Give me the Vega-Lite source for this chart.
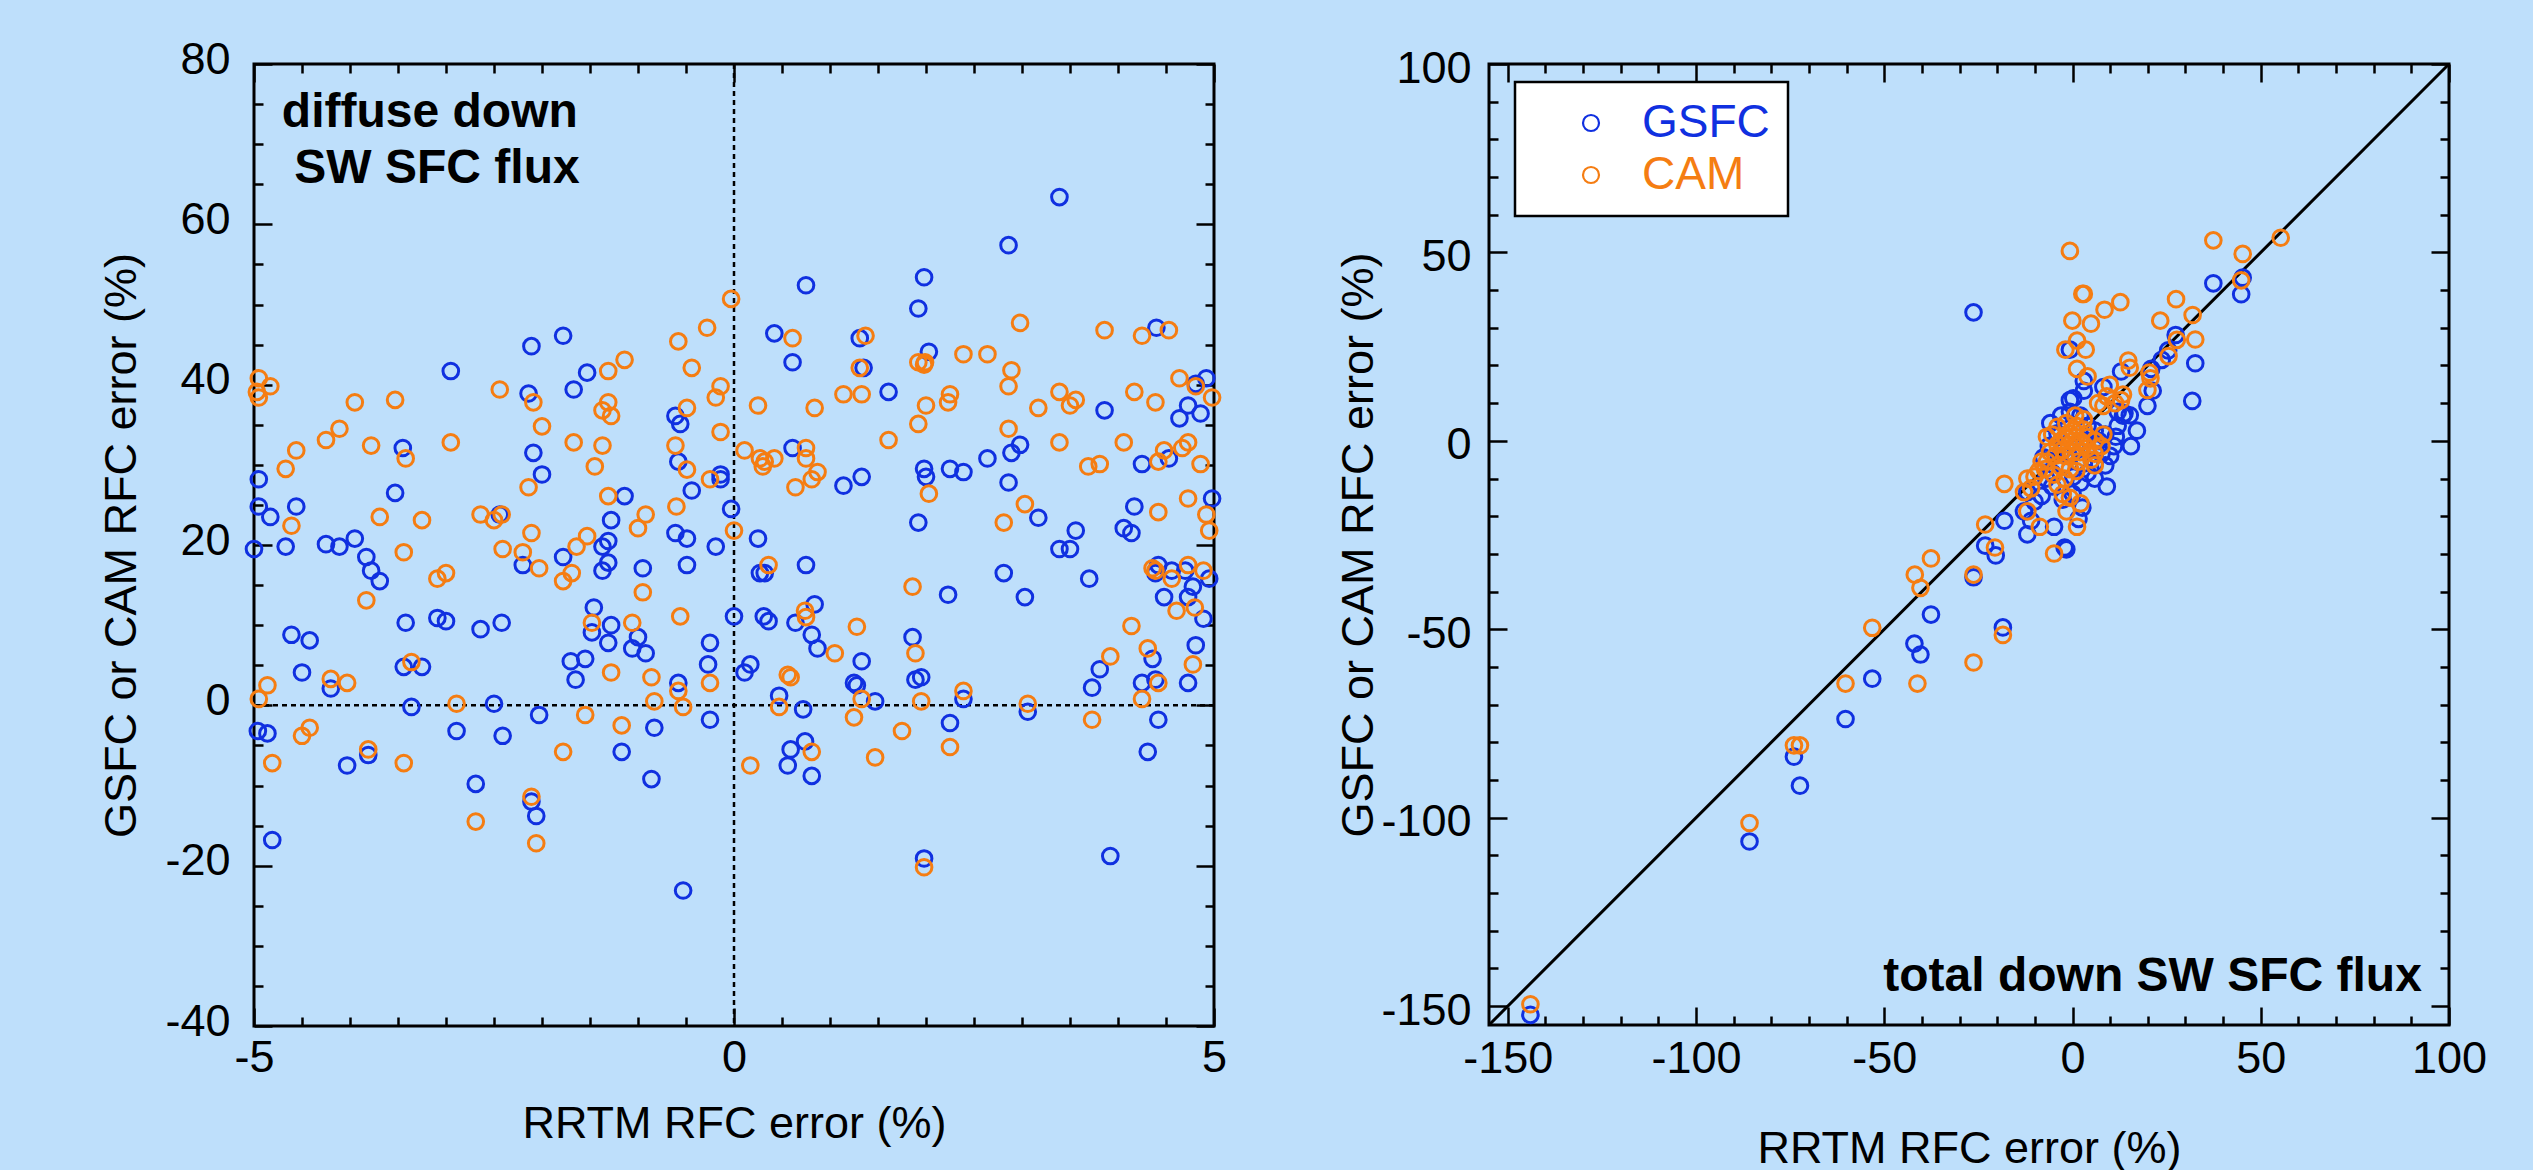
{
"$schema": "https://vega.github.io/schema/vega-lite/v6.json",
"background": "#BEDFFB",
"padding": {"left": 98, "top": 35, "right": 48, "bottom": 0},
"autosize": {"type": "pad"},
"config": {
  "view": {"stroke": "black", "strokeWidth": 3},
  "axis": {"labelFont": "Liberation Sans", "labelFontSize": 45, "labelColor": "black", "titleFont": "Liberation Sans", "titleFontSize": 45, "titleFontWeight": "normal", "titleColor": "black", "tickColor": "black", "tickWidth": 2.5, "grid": false, "domain": false, "labelFlush": false, "labelOverlap": false, "labelBound": false, "labelExpr": "'' + datum.value"},
  "legend": {"strokeWidth": 2.5},
  "text": {"font": "Liberation Sans"}
},
"spacing": 275,
"bounds": "flush",
"resolve": {"scale": {"color": "independent"}},
"datasets": {
"left": [
{"x":0.75,"y":52.4,"m":"GSFC"},{"x":0.42,"y":46.4,"m":"GSFC"},{"x":0.61,"y":42.8,"m":"GSFC"},{"x":-1.53,"y":41.5,"m":"GSFC"},{"x":-1.67,"y":39.4,"m":"GSFC"},{"x":-1.78,"y":46.1,"m":"GSFC"},{"x":-2.11,"y":44.8,"m":"GSFC"},{"x":-2.95,"y":41.7,"m":"GSFC"},{"x":-2.14,"y":38.9,"m":"GSFC"},{"x":-0.61,"y":36.1,"m":"GSFC"},{"x":-0.56,"y":35.1,"m":"GSFC"},{"x":-3.45,"y":32.1,"m":"GSFC"},{"x":-2.09,"y":31.5,"m":"GSFC"},{"x":-2.0,"y":28.8,"m":"GSFC"},{"x":-0.58,"y":30.4,"m":"GSFC"},{"x":-0.44,"y":26.8,"m":"GSFC"},{"x":-0.14,"y":28.8,"m":"GSFC"},{"x":-0.14,"y":28.2,"m":"GSFC"},{"x":-1.14,"y":26.1,"m":"GSFC"},{"x":-4.95,"y":28.2,"m":"GSFC"},{"x":-4.95,"y":24.8,"m":"GSFC"},{"x":-4.83,"y":23.5,"m":"GSFC"},{"x":-4.56,"y":24.8,"m":"GSFC"},{"x":-3.53,"y":26.5,"m":"GSFC"},{"x":-2.44,"y":23.8,"m":"GSFC"},{"x":-1.28,"y":23.1,"m":"GSFC"},{"x":-0.03,"y":24.5,"m":"GSFC"},{"x":-0.61,"y":21.5,"m":"GSFC"},{"x":-0.49,"y":20.8,"m":"GSFC"},{"x":-0.19,"y":19.8,"m":"GSFC"},{"x":-1.37,"y":19.8,"m":"GSFC"},{"x":-1.31,"y":20.5,"m":"GSFC"},{"x":-2.2,"y":17.5,"m":"GSFC"},{"x":-1.78,"y":18.5,"m":"GSFC"},{"x":-1.31,"y":17.8,"m":"GSFC"},{"x":-1.37,"y":16.8,"m":"GSFC"},{"x":-0.95,"y":17.1,"m":"GSFC"},{"x":-0.49,"y":17.5,"m":"GSFC"},{"x":-1.46,"y":12.2,"m":"GSFC"},{"x":-1.28,"y":10.0,"m":"GSFC"},{"x":0.0,"y":11.1,"m":"GSFC"},{"x":-5.0,"y":19.5,"m":"GSFC"},{"x":-4.67,"y":19.8,"m":"GSFC"},{"x":-4.25,"y":20.1,"m":"GSFC"},{"x":-4.11,"y":19.8,"m":"GSFC"},{"x":-3.95,"y":20.8,"m":"GSFC"},{"x":-3.83,"y":18.5,"m":"GSFC"},{"x":-3.78,"y":16.8,"m":"GSFC"},{"x":-3.69,"y":15.5,"m":"GSFC"},{"x":-3.42,"y":10.3,"m":"GSFC"},{"x":-3.09,"y":10.9,"m":"GSFC"},{"x":-3.0,"y":10.5,"m":"GSFC"},{"x":-2.64,"y":9.5,"m":"GSFC"},{"x":-2.42,"y":10.3,"m":"GSFC"},{"x":0.61,"y":32.1,"m":"GSFC"},{"x":0.25,"y":20.8,"m":"GSFC"},{"x":0.27,"y":16.5,"m":"GSFC"},{"x":0.32,"y":16.5,"m":"GSFC"},{"x":0.75,"y":17.5,"m":"GSFC"},{"x":0.84,"y":12.6,"m":"GSFC"},{"x":0.31,"y":11.1,"m":"GSFC"},{"x":0.36,"y":10.5,"m":"GSFC"},{"x":0.64,"y":10.3,"m":"GSFC"},
{"x":3.39,"y":63.4,"m":"GSFC"},{"x":2.86,"y":57.4,"m":"GSFC"},{"x":1.98,"y":53.4,"m":"GSFC"},{"x":1.92,"y":49.5,"m":"GSFC"},{"x":4.4,"y":47.1,"m":"GSFC"},{"x":1.31,"y":45.8,"m":"GSFC"},{"x":1.35,"y":42.1,"m":"GSFC"},{"x":1.61,"y":39.1,"m":"GSFC"},{"x":2.03,"y":44.1,"m":"GSFC"},{"x":3.86,"y":36.8,"m":"GSFC"},{"x":4.81,"y":40.1,"m":"GSFC"},{"x":4.92,"y":40.8,"m":"GSFC"},{"x":4.73,"y":37.4,"m":"GSFC"},{"x":4.64,"y":35.8,"m":"GSFC"},{"x":4.86,"y":36.4,"m":"GSFC"},{"x":2.98,"y":32.5,"m":"GSFC"},{"x":2.89,"y":31.5,"m":"GSFC"},{"x":2.64,"y":30.8,"m":"GSFC"},{"x":4.25,"y":30.1,"m":"GSFC"},{"x":4.53,"y":30.8,"m":"GSFC"},{"x":1.98,"y":29.5,"m":"GSFC"},{"x":2.0,"y":28.5,"m":"GSFC"},{"x":2.25,"y":29.5,"m":"GSFC"},{"x":2.39,"y":29.1,"m":"GSFC"},{"x":1.33,"y":28.5,"m":"GSFC"},{"x":1.14,"y":27.4,"m":"GSFC"},{"x":2.86,"y":27.8,"m":"GSFC"},{"x":3.17,"y":23.4,"m":"GSFC"},{"x":1.92,"y":22.8,"m":"GSFC"},{"x":4.17,"y":24.8,"m":"GSFC"},{"x":4.98,"y":25.8,"m":"GSFC"},{"x":3.56,"y":21.8,"m":"GSFC"},{"x":4.06,"y":22.1,"m":"GSFC"},{"x":4.14,"y":21.5,"m":"GSFC"},{"x":3.39,"y":19.5,"m":"GSFC"},{"x":3.5,"y":19.5,"m":"GSFC"},{"x":3.7,"y":15.8,"m":"GSFC"},{"x":2.81,"y":16.5,"m":"GSFC"},{"x":2.23,"y":13.8,"m":"GSFC"},{"x":3.03,"y":13.5,"m":"GSFC"},{"x":4.42,"y":17.5,"m":"GSFC"},{"x":4.39,"y":16.5,"m":"GSFC"},{"x":4.56,"y":16.8,"m":"GSFC"},{"x":4.7,"y":16.8,"m":"GSFC"},{"x":4.95,"y":15.8,"m":"GSFC"},{"x":4.78,"y":14.8,"m":"GSFC"},{"x":4.48,"y":13.5,"m":"GSFC"},{"x":4.73,"y":13.5,"m":"GSFC"},{"x":4.89,"y":10.8,"m":"GSFC"},
{"x":-4.61,"y":8.8,"m":"GSFC"},{"x":-4.42,"y":8.1,"m":"GSFC"},{"x":-4.5,"y":4.1,"m":"GSFC"},{"x":-4.2,"y":2.1,"m":"GSFC"},{"x":-3.44,"y":4.8,"m":"GSFC"},{"x":-3.25,"y":4.8,"m":"GSFC"},{"x":-3.36,"y":-0.2,"m":"GSFC"},{"x":-2.5,"y":0.2,"m":"GSFC"},{"x":-2.03,"y":-1.2,"m":"GSFC"},{"x":-4.96,"y":-3.2,"m":"GSFC"},{"x":-4.86,"y":-3.5,"m":"GSFC"},{"x":-3.81,"y":-6.2,"m":"GSFC"},{"x":-4.03,"y":-7.5,"m":"GSFC"},{"x":-2.89,"y":-3.2,"m":"GSFC"},{"x":-2.41,"y":-3.8,"m":"GSFC"},{"x":-2.69,"y":-9.8,"m":"GSFC"},{"x":-2.11,"y":-12.0,"m":"GSFC"},{"x":-2.06,"y":-13.8,"m":"GSFC"},{"x":-4.81,"y":-16.8,"m":"GSFC"},{"x":-0.53,"y":-23.1,"m":"GSFC"},{"x":-1.48,"y":9.1,"m":"GSFC"},{"x":-1.31,"y":7.8,"m":"GSFC"},{"x":-1.0,"y":8.5,"m":"GSFC"},{"x":-1.06,"y":7.1,"m":"GSFC"},{"x":-0.92,"y":6.5,"m":"GSFC"},{"x":-1.7,"y":5.5,"m":"GSFC"},{"x":-1.55,"y":5.8,"m":"GSFC"},{"x":-1.65,"y":3.2,"m":"GSFC"},{"x":-0.58,"y":2.8,"m":"GSFC"},{"x":-0.27,"y":5.1,"m":"GSFC"},{"x":-0.25,"y":7.8,"m":"GSFC"},{"x":-0.83,"y":-2.8,"m":"GSFC"},{"x":-1.17,"y":-5.8,"m":"GSFC"},{"x":-0.86,"y":-9.2,"m":"GSFC"},{"x":-0.25,"y":-1.8,"m":"GSFC"},{"x":0.11,"y":4.1,"m":"GSFC"},{"x":0.17,"y":5.1,"m":"GSFC"},{"x":0.47,"y":1.2,"m":"GSFC"},{"x":0.72,"y":-0.5,"m":"GSFC"},{"x":0.74,"y":-4.5,"m":"GSFC"},{"x":0.59,"y":-5.5,"m":"GSFC"},{"x":0.56,"y":-7.5,"m":"GSFC"},{"x":0.81,"y":-8.8,"m":"GSFC"},{"x":0.81,"y":8.8,"m":"GSFC"},{"x":0.87,"y":7.1,"m":"GSFC"},
{"x":1.33,"y":5.5,"m":"GSFC"},{"x":1.25,"y":2.8,"m":"GSFC"},{"x":1.28,"y":2.5,"m":"GSFC"},{"x":1.47,"y":0.5,"m":"GSFC"},{"x":1.86,"y":8.5,"m":"GSFC"},{"x":1.89,"y":3.2,"m":"GSFC"},{"x":1.95,"y":3.5,"m":"GSFC"},{"x":2.25,"y":-2.2,"m":"GSFC"},{"x":2.39,"y":0.8,"m":"GSFC"},{"x":1.98,"y":-19.1,"m":"GSFC"},{"x":3.06,"y":-0.8,"m":"GSFC"},{"x":3.73,"y":2.2,"m":"GSFC"},{"x":3.81,"y":4.5,"m":"GSFC"},{"x":3.92,"y":-18.8,"m":"GSFC"},{"x":4.36,"y":5.8,"m":"GSFC"},{"x":4.25,"y":2.8,"m":"GSFC"},{"x":4.39,"y":3.2,"m":"GSFC"},{"x":4.42,"y":-1.8,"m":"GSFC"},{"x":4.31,"y":-5.8,"m":"GSFC"},{"x":4.73,"y":2.8,"m":"GSFC"},{"x":4.81,"y":7.5,"m":"GSFC"},
{"x":-0.03,"y":50.7,"m":"CAM"},{"x":0.61,"y":45.8,"m":"CAM"},{"x":-0.28,"y":47.1,"m":"CAM"},{"x":-0.58,"y":45.4,"m":"CAM"},{"x":-0.44,"y":42.1,"m":"CAM"},{"x":-1.14,"y":43.1,"m":"CAM"},{"x":-1.31,"y":41.7,"m":"CAM"},{"x":-2.44,"y":39.4,"m":"CAM"},{"x":-2.09,"y":37.8,"m":"CAM"},{"x":-3.95,"y":37.8,"m":"CAM"},{"x":-3.53,"y":38.1,"m":"CAM"},{"x":-4.95,"y":40.8,"m":"CAM"},{"x":-4.83,"y":39.8,"m":"CAM"},{"x":-4.97,"y":39.1,"m":"CAM"},{"x":-4.95,"y":38.4,"m":"CAM"},{"x":-1.31,"y":37.8,"m":"CAM"},{"x":-1.37,"y":36.8,"m":"CAM"},{"x":-1.28,"y":36.1,"m":"CAM"},{"x":-0.49,"y":37.1,"m":"CAM"},{"x":-0.19,"y":38.4,"m":"CAM"},{"x":-0.14,"y":39.8,"m":"CAM"},{"x":-0.14,"y":34.1,"m":"CAM"},{"x":-2.0,"y":34.8,"m":"CAM"},{"x":-4.11,"y":34.5,"m":"CAM"},{"x":-4.25,"y":33.1,"m":"CAM"},{"x":-4.56,"y":31.8,"m":"CAM"},{"x":-4.67,"y":29.5,"m":"CAM"},{"x":-3.78,"y":32.4,"m":"CAM"},{"x":-3.42,"y":30.8,"m":"CAM"},{"x":-2.95,"y":32.8,"m":"CAM"},{"x":-2.14,"y":27.2,"m":"CAM"},{"x":-1.67,"y":32.8,"m":"CAM"},{"x":-1.37,"y":32.4,"m":"CAM"},{"x":-1.45,"y":29.8,"m":"CAM"},{"x":-0.61,"y":32.4,"m":"CAM"},{"x":-0.49,"y":29.4,"m":"CAM"},{"x":-0.25,"y":28.2,"m":"CAM"},{"x":-1.31,"y":26.1,"m":"CAM"},{"x":-4.61,"y":22.4,"m":"CAM"},{"x":-3.69,"y":23.5,"m":"CAM"},{"x":-3.25,"y":23.1,"m":"CAM"},{"x":-2.64,"y":23.8,"m":"CAM"},{"x":-2.5,"y":23.1,"m":"CAM"},{"x":-2.42,"y":23.8,"m":"CAM"},{"x":-0.92,"y":23.8,"m":"CAM"},{"x":-1.0,"y":22.1,"m":"CAM"},{"x":-0.6,"y":24.8,"m":"CAM"},{"x":0.0,"y":21.8,"m":"CAM"},{"x":-1.53,"y":21.1,"m":"CAM"},{"x":-1.64,"y":19.8,"m":"CAM"},{"x":-2.11,"y":21.5,"m":"CAM"},{"x":-2.41,"y":19.5,"m":"CAM"},{"x":-2.2,"y":19.1,"m":"CAM"},{"x":-2.03,"y":17.1,"m":"CAM"},{"x":-1.78,"y":15.5,"m":"CAM"},{"x":-1.69,"y":16.5,"m":"CAM"},{"x":-0.95,"y":14.1,"m":"CAM"},{"x":-0.56,"y":11.1,"m":"CAM"},{"x":-1.48,"y":10.3,"m":"CAM"},{"x":-1.06,"y":10.3,"m":"CAM"},{"x":-3.44,"y":19.1,"m":"CAM"},{"x":-3.83,"y":13.1,"m":"CAM"},{"x":-3.09,"y":15.8,"m":"CAM"},{"x":-3.0,"y":16.5,"m":"CAM"},{"x":0.25,"y":37.4,"m":"CAM"},{"x":0.84,"y":37.1,"m":"CAM"},{"x":0.11,"y":31.8,"m":"CAM"},{"x":0.27,"y":30.8,"m":"CAM"},{"x":0.32,"y":30.4,"m":"CAM"},{"x":0.3,"y":29.8,"m":"CAM"},{"x":0.42,"y":30.8,"m":"CAM"},{"x":0.75,"y":32.1,"m":"CAM"},{"x":0.75,"y":30.8,"m":"CAM"},{"x":0.87,"y":29.1,"m":"CAM"},{"x":0.81,"y":28.2,"m":"CAM"},{"x":0.64,"y":27.2,"m":"CAM"},{"x":0.36,"y":17.5,"m":"CAM"},{"x":0.74,"y":11.8,"m":"CAM"},{"x":0.75,"y":11.0,"m":"CAM"},
{"x":2.98,"y":47.7,"m":"CAM"},{"x":3.86,"y":46.8,"m":"CAM"},{"x":4.25,"y":46.1,"m":"CAM"},{"x":4.53,"y":46.8,"m":"CAM"},{"x":1.37,"y":46.1,"m":"CAM"},{"x":1.31,"y":42.1,"m":"CAM"},{"x":1.14,"y":38.8,"m":"CAM"},{"x":1.33,"y":38.8,"m":"CAM"},{"x":1.92,"y":42.8,"m":"CAM"},{"x":1.98,"y":42.5,"m":"CAM"},{"x":1.99,"y":42.8,"m":"CAM"},{"x":2.39,"y":43.8,"m":"CAM"},{"x":2.64,"y":43.8,"m":"CAM"},{"x":2.89,"y":41.8,"m":"CAM"},{"x":2.86,"y":39.8,"m":"CAM"},{"x":2.25,"y":38.8,"m":"CAM"},{"x":2.23,"y":37.8,"m":"CAM"},{"x":2.0,"y":37.4,"m":"CAM"},{"x":1.92,"y":35.1,"m":"CAM"},{"x":3.17,"y":37.1,"m":"CAM"},{"x":3.39,"y":39.1,"m":"CAM"},{"x":3.56,"y":38.1,"m":"CAM"},{"x":3.5,"y":37.4,"m":"CAM"},{"x":4.17,"y":39.1,"m":"CAM"},{"x":4.39,"y":37.8,"m":"CAM"},{"x":4.64,"y":40.8,"m":"CAM"},{"x":4.81,"y":39.8,"m":"CAM"},{"x":4.98,"y":38.4,"m":"CAM"},{"x":1.61,"y":33.1,"m":"CAM"},{"x":2.86,"y":34.5,"m":"CAM"},{"x":3.39,"y":32.8,"m":"CAM"},{"x":4.06,"y":32.8,"m":"CAM"},{"x":4.42,"y":30.4,"m":"CAM"},{"x":4.48,"y":31.8,"m":"CAM"},{"x":4.67,"y":32.1,"m":"CAM"},{"x":4.73,"y":32.8,"m":"CAM"},{"x":4.86,"y":30.1,"m":"CAM"},{"x":3.69,"y":29.8,"m":"CAM"},{"x":3.81,"y":30.1,"m":"CAM"},{"x":2.03,"y":26.4,"m":"CAM"},{"x":3.03,"y":25.1,"m":"CAM"},{"x":2.81,"y":22.8,"m":"CAM"},{"x":4.42,"y":24.1,"m":"CAM"},{"x":4.73,"y":25.8,"m":"CAM"},{"x":4.92,"y":23.8,"m":"CAM"},{"x":4.95,"y":21.8,"m":"CAM"},{"x":1.86,"y":14.8,"m":"CAM"},{"x":4.36,"y":17.1,"m":"CAM"},{"x":4.39,"y":16.8,"m":"CAM"},{"x":4.73,"y":17.5,"m":"CAM"},{"x":4.89,"y":16.8,"m":"CAM"},{"x":4.56,"y":15.8,"m":"CAM"},{"x":4.61,"y":11.8,"m":"CAM"},{"x":4.8,"y":12.2,"m":"CAM"},{"x":4.14,"y":9.9,"m":"CAM"},{"x":1.28,"y":9.8,"m":"CAM"},
{"x":-4.86,"y":2.5,"m":"CAM"},{"x":-4.95,"y":0.8,"m":"CAM"},{"x":-4.2,"y":3.3,"m":"CAM"},{"x":-4.03,"y":2.8,"m":"CAM"},{"x":-3.36,"y":5.4,"m":"CAM"},{"x":-2.89,"y":0.2,"m":"CAM"},{"x":-4.5,"y":-3.8,"m":"CAM"},{"x":-4.42,"y":-2.8,"m":"CAM"},{"x":-4.81,"y":-7.2,"m":"CAM"},{"x":-3.81,"y":-5.5,"m":"CAM"},{"x":-3.44,"y":-7.2,"m":"CAM"},{"x":-2.11,"y":-11.4,"m":"CAM"},{"x":-2.69,"y":-14.5,"m":"CAM"},{"x":-2.06,"y":-17.2,"m":"CAM"},{"x":-1.28,"y":4.1,"m":"CAM"},{"x":-0.86,"y":3.5,"m":"CAM"},{"x":-0.58,"y":1.8,"m":"CAM"},{"x":-0.25,"y":2.8,"m":"CAM"},{"x":-1.55,"y":-1.2,"m":"CAM"},{"x":-0.83,"y":0.5,"m":"CAM"},{"x":-0.53,"y":-0.2,"m":"CAM"},{"x":-1.17,"y":-2.5,"m":"CAM"},{"x":-1.78,"y":-5.8,"m":"CAM"},{"x":0.17,"y":-7.5,"m":"CAM"},{"x":0.47,"y":-0.2,"m":"CAM"},{"x":0.56,"y":3.8,"m":"CAM"},{"x":0.59,"y":3.5,"m":"CAM"},{"x":0.81,"y":-5.8,"m":"CAM"},{"x":1.05,"y":6.5,"m":"CAM"},
{"x":1.33,"y":0.8,"m":"CAM"},{"x":1.25,"y":-1.5,"m":"CAM"},{"x":1.75,"y":-3.2,"m":"CAM"},{"x":1.47,"y":-6.5,"m":"CAM"},{"x":1.89,"y":6.5,"m":"CAM"},{"x":1.95,"y":0.5,"m":"CAM"},{"x":2.25,"y":-5.2,"m":"CAM"},{"x":2.39,"y":1.8,"m":"CAM"},{"x":1.98,"y":-20.2,"m":"CAM"},{"x":3.06,"y":0.2,"m":"CAM"},{"x":3.92,"y":6.1,"m":"CAM"},{"x":3.73,"y":-1.8,"m":"CAM"},{"x":4.31,"y":7.1,"m":"CAM"},{"x":4.25,"y":0.8,"m":"CAM"},{"x":4.42,"y":2.8,"m":"CAM"},{"x":4.78,"y":5.1,"m":"CAM"}
],
"right": [
{"x":-26.3,"y":34.1,"m":"GSFC"},{"x":-26.3,"y":-36.2,"m":"GSFC"},{"x":-37.6,"y":-46.1,"m":"GSFC"},{"x":-42.0,"y":-53.8,"m":"GSFC"},{"x":-40.4,"y":-56.7,"m":"GSFC"},{"x":-53.2,"y":-63.1,"m":"GSFC"},{"x":-60.3,"y":-73.8,"m":"GSFC"},{"x":-74.0,"y":-83.8,"m":"GSFC"},{"x":-72.4,"y":-91.5,"m":"GSFC"},{"x":-85.8,"y":-106.3,"m":"GSFC"},{"x":-144.0,"y":-152.3,"m":"GSFC"},{"x":-18.5,"y":-49.5,"m":"GSFC"},
{"x":45.2,"y":43.3,"m":"GSFC"},{"x":44.8,"y":38.9,"m":"GSFC"},{"x":37.4,"y":41.8,"m":"GSFC"},{"x":27.4,"y":28.1,"m":"GSFC"},{"x":25.4,"y":24.0,"m":"GSFC"},{"x":23.7,"y":21.5,"m":"GSFC"},{"x":32.6,"y":20.6,"m":"GSFC"},{"x":31.8,"y":10.6,"m":"GSFC"},{"x":-0.7,"y":24.2,"m":"GSFC"},{"x":3.0,"y":15.9,"m":"GSFC"},{"x":12.9,"y":18.4,"m":"GSFC"},{"x":20.9,"y":19.1,"m":"GSFC"},{"x":19.9,"y":9.3,"m":"GSFC"},{"x":21.3,"y":13.3,"m":"GSFC"},{"x":8.2,"y":14.3,"m":"GSFC"},{"x":-0.7,"y":10.8,"m":"GSFC"},{"x":3.0,"y":13.3,"m":"GSFC"},{"x":13.8,"y":7.3,"m":"GSFC"},{"x":15.2,"y":6.8,"m":"GSFC"},{"x":17.1,"y":2.7,"m":"GSFC"},{"x":15.5,"y":-1.4,"m":"GSFC"},{"x":11.5,"y":1.1,"m":"GSFC"},{"x":9.1,"y":-12.1,"m":"GSFC"},{"x":5.9,"y":-10.0,"m":"GSFC"},
{"x":-5.9,"y":4.7,"m":"GSFC"},{"x":-3.05,"y":6.7,"m":"GSFC"},{"x":-0.7,"y":7.7,"m":"GSFC"},{"x":2.1,"y":6.7,"m":"GSFC"},{"x":0.2,"y":11.3,"m":"GSFC"},{"x":5.9,"y":2.7,"m":"GSFC"},{"x":8.7,"y":1.7,"m":"GSFC"},{"x":7.7,"y":-3.4,"m":"GSFC"},{"x":8.7,"y":-6.5,"m":"GSFC"},{"x":5.9,"y":-6.0,"m":"GSFC"},{"x":4.0,"y":-8.5,"m":"GSFC"},{"x":-6.3,"y":-1.4,"m":"GSFC"},{"x":-7.7,"y":-4.4,"m":"GSFC"},{"x":-5.4,"y":-8.5,"m":"GSFC"},{"x":-2.6,"y":-6.5,"m":"GSFC"},{"x":0.2,"y":-9.5,"m":"GSFC"},{"x":2.1,"y":-11.1,"m":"GSFC"},{"x":-5.4,"y":-12.1,"m":"GSFC"},{"x":-8.2,"y":-14.6,"m":"GSFC"},{"x":-12.0,"y":-13.6,"m":"GSFC"},{"x":-10.1,"y":-16.1,"m":"GSFC"},{"x":-12.9,"y":-18.7,"m":"GSFC"},{"x":-2.6,"y":-15.6,"m":"GSFC"},{"x":2.6,"y":-17.7,"m":"GSFC"},{"x":-4.9,"y":-22.8,"m":"GSFC"},{"x":-12.0,"y":-24.8,"m":"GSFC"},{"x":-2.1,"y":-28.3,"m":"GSFC"},{"x":-1.65,"y":-28.8,"m":"GSFC"},{"x":-18.1,"y":-21.2,"m":"GSFC"},{"x":-20.4,"y":-30.4,"m":"GSFC"},{"x":-23.2,"y":-27.8,"m":"GSFC"},{"x":1.6,"y":-20.7,"m":"GSFC"},{"x":-11.0,"y":-21.2,"m":"GSFC"},{"x":11.0,"y":-1.4,"m":"GSFC"},{"x":13.4,"y":6.7,"m":"GSFC"},{"x":12.0,"y":7.7,"m":"GSFC"},
{"x":-4.0,"y":2.0,"m":"GSFC"},{"x":1.0,"y":-2.0,"m":"GSFC"},{"x":3.0,"y":-6.0,"m":"GSFC"},{"x":6.0,"y":-2.0,"m":"GSFC"},{"x":-1.0,"y":-4.0,"m":"GSFC"},{"x":4.0,"y":4.0,"m":"GSFC"},{"x":-3.0,"y":-3.0,"m":"GSFC"},{"x":7.0,"y":0.0,"m":"GSFC"},{"x":0.0,"y":-14.0,"m":"GSFC"},{"x":-7.0,"y":-10.0,"m":"GSFC"},{"x":10.0,"y":-4.0,"m":"GSFC"},{"x":12.0,"y":4.0,"m":"GSFC"},
{"x":-37.6,"y":-31.2,"m":"CAM"},{"x":-41.9,"y":-35.5,"m":"CAM"},{"x":-40.4,"y":-39.0,"m":"CAM"},{"x":-26.3,"y":-35.5,"m":"CAM"},{"x":-53.2,"y":-49.6,"m":"CAM"},{"x":-26.3,"y":-58.8,"m":"CAM"},{"x":-60.3,"y":-64.4,"m":"CAM"},{"x":-41.2,"y":-64.4,"m":"CAM"},{"x":-74.0,"y":-80.8,"m":"CAM"},{"x":-72.4,"y":-80.8,"m":"CAM"},{"x":-85.8,"y":-101.4,"m":"CAM"},{"x":-144.0,"y":-149.5,"m":"CAM"},{"x":-18.5,"y":-51.5,"m":"CAM"},
{"x":55.3,"y":53.9,"m":"CAM"},{"x":37.4,"y":53.2,"m":"CAM"},{"x":-0.7,"y":50.4,"m":"CAM"},{"x":45.2,"y":49.6,"m":"CAM"},{"x":44.8,"y":42.6,"m":"CAM"},{"x":3.0,"y":39.0,"m":"CAM"},{"x":2.6,"y":39.0,"m":"CAM"},{"x":12.7,"y":36.8,"m":"CAM"},{"x":8.5,"y":34.8,"m":"CAM"},{"x":27.5,"y":37.6,"m":"CAM"},{"x":-0.05,"y":31.9,"m":"CAM"},{"x":4.9,"y":31.1,"m":"CAM"},{"x":23.3,"y":31.9,"m":"CAM"},{"x":31.9,"y":33.4,"m":"CAM"},{"x":27.7,"y":26.8,"m":"CAM"},{"x":32.6,"y":26.9,"m":"CAM"},{"x":25.5,"y":22.5,"m":"CAM"},{"x":-1.9,"y":24.2,"m":"CAM"},{"x":1.2,"y":26.6,"m":"CAM"},{"x":3.5,"y":24.2,"m":"CAM"},{"x":1.2,"y":19.1,"m":"CAM"},{"x":4.0,"y":17.1,"m":"CAM"},{"x":14.8,"y":21.3,"m":"CAM"},{"x":15.2,"y":19.4,"m":"CAM"},{"x":20.4,"y":18.1,"m":"CAM"},{"x":20.7,"y":16.6,"m":"CAM"},{"x":19.9,"y":13.5,"m":"CAM"},{"x":9.9,"y":14.9,"m":"CAM"},{"x":13.4,"y":12.3,"m":"CAM"},{"x":6.8,"y":10.0,"m":"CAM"},{"x":8.2,"y":9.3,"m":"CAM"},{"x":11.3,"y":10.0,"m":"CAM"},{"x":12.9,"y":10.8,"m":"CAM"},{"x":9.1,"y":11.8,"m":"CAM"},
{"x":-5.4,"y":1.7,"m":"CAM"},{"x":-6.8,"y":1.1,"m":"CAM"},{"x":-4.0,"y":3.7,"m":"CAM"},{"x":-1.65,"y":4.7,"m":"CAM"},{"x":0.7,"y":6.7,"m":"CAM"},{"x":3.0,"y":5.7,"m":"CAM"},{"x":0.2,"y":2.7,"m":"CAM"},{"x":2.1,"y":-0.4,"m":"CAM"},{"x":4.0,"y":-1.9,"m":"CAM"},{"x":5.9,"y":-3.4,"m":"CAM"},{"x":7.7,"y":-1.4,"m":"CAM"},{"x":8.2,"y":1.7,"m":"CAM"},{"x":-2.6,"y":-2.4,"m":"CAM"},{"x":-4.5,"y":-3.9,"m":"CAM"},{"x":-6.8,"y":-5.5,"m":"CAM"},{"x":-8.2,"y":-5.5,"m":"CAM"},{"x":-7.3,"y":-7.5,"m":"CAM"},{"x":-0.7,"y":-7.5,"m":"CAM"},{"x":1.6,"y":-5.5,"m":"CAM"},{"x":-2.1,"y":-10.0,"m":"CAM"},{"x":-4.0,"y":-11.6,"m":"CAM"},{"x":-12.0,"y":-10.0,"m":"CAM"},{"x":-10.1,"y":-9.5,"m":"CAM"},{"x":-11.0,"y":-12.6,"m":"CAM"},{"x":-12.9,"y":-13.6,"m":"CAM"},{"x":-2.6,"y":-14.1,"m":"CAM"},{"x":-0.7,"y":-15.1,"m":"CAM"},{"x":2.1,"y":-16.6,"m":"CAM"},{"x":-1.6,"y":-18.7,"m":"CAM"},{"x":-12.0,"y":-18.7,"m":"CAM"},{"x":-8.7,"y":-22.8,"m":"CAM"},{"x":1.2,"y":-22.8,"m":"CAM"},{"x":-4.9,"y":-29.9,"m":"CAM"},{"x":-18.1,"y":-11.4,"m":"CAM"},{"x":-23.2,"y":-22.2,"m":"CAM"},{"x":-20.6,"y":-28.3,"m":"CAM"},{"x":5.9,"y":-6.5,"m":"CAM"},
{"x":-3.0,"y":0.0,"m":"CAM"},{"x":-1.0,"y":-1.0,"m":"CAM"},{"x":1.0,"y":1.0,"m":"CAM"},{"x":3.0,"y":-1.0,"m":"CAM"},{"x":-2.0,"y":-4.0,"m":"CAM"},{"x":0.0,"y":-3.0,"m":"CAM"},{"x":2.0,"y":-3.0,"m":"CAM"},{"x":4.0,"y":1.0,"m":"CAM"},{"x":-4.0,"y":-1.0,"m":"CAM"},{"x":-6.0,"y":-3.0,"m":"CAM"},{"x":1.0,"y":4.0,"m":"CAM"},{"x":-1.0,"y":2.0,"m":"CAM"},{"x":3.0,"y":3.0,"m":"CAM"},{"x":5.0,"y":-5.0,"m":"CAM"},{"x":-3.0,"y":-7.0,"m":"CAM"},{"x":1.0,"y":-8.0,"m":"CAM"},{"x":-5.0,"y":-9.0,"m":"CAM"},{"x":-9.0,"y":-8.0,"m":"CAM"},{"x":6.0,"y":0.0,"m":"CAM"},{"x":0.0,"y":0.0,"m":"CAM"},{"x":2.0,"y":0.0,"m":"CAM"},{"x":-2.0,"y":1.0,"m":"CAM"}
]
},
"hconcat": [
{
  "width": 960, "height": 962,
  "data": {"name": "left"},
  "resolve": {"axis": {"x": "independent", "y": "independent"}},
  "layer": [
    {"data": {"values": [{}]}, "mark": {"type": "rule", "color": "black", "strokeWidth": 2.5, "strokeDash": [5, 4]},
     "encoding": {"x": {"datum": 0, "type": "quantitative", "scale": {"domain": [-5, 5], "nice": false, "zero": false}, "axis": null}}},
    {"data": {"values": [{}]}, "mark": {"type": "rule", "color": "black", "strokeWidth": 2.5, "strokeDash": [5, 4]},
     "encoding": {"y": {"datum": 0, "type": "quantitative", "scale": {"domain": [-40, 80], "nice": false, "zero": false}, "axis": null}}},
    {"mark": {"type": "point", "filled": false, "size": 245, "strokeWidth": 3, "opacity": 1},
     "encoding": {
       "x": {"field": "x", "type": "quantitative", "scale": {"domain": [-5, 5], "nice": false, "zero": false}, "axis": {"orient": "bottom", "values": [-5, 0, 5], "ticks": false, "labelPadding": 9, "title": "RRTM RFC error (%)", "titlePadding": 21}},
       "y": {"field": "y", "type": "quantitative", "scale": {"domain": [-40, 80], "nice": false, "zero": false}, "axis": {"orient": "left", "values": [-40, -20, 0, 20, 40, 60, 80], "ticks": false, "labelPadding": 24, "labelOffset": -5, "title": "GSFC or CAM RFC error (%)", "titlePadding": 20}},
       "color": {"field": "m", "type": "nominal", "scale": {"domain": ["GSFC", "CAM"], "range": ["#1030E0", "#F57D12"]}, "legend": null}
     }},
    {"mark": {"type": "point", "opacity": 0},
     "encoding": {
       "x": {"field": "x", "type": "quantitative", "scale": {"domain": [-5, 5], "nice": false, "zero": false}, "axis": {"orient": "bottom", "values": [-5, 0, 5], "labels": false, "tickSize": -18, "title": null}},
       "y": {"field": "y", "type": "quantitative", "scale": {"domain": [-40, 80], "nice": false, "zero": false}, "axis": {"orient": "left", "values": [-40, -20, 0, 20, 40, 60, 80], "labels": false, "tickSize": -18, "title": null}}
     }},
    {"mark": {"type": "point", "opacity": 0},
     "encoding": {
       "x": {"field": "x", "type": "quantitative", "scale": {"domain": [-5, 5], "nice": false, "zero": false}, "axis": {"orient": "bottom", "values": [-4.5, -4, -3.5, -3, -2.5, -2, -1.5, -1, -0.5, 0.5, 1, 1.5, 2, 2.5, 3, 3.5, 4, 4.5], "labels": false, "tickSize": -9, "title": null}},
       "y": {"field": "y", "type": "quantitative", "scale": {"domain": [-40, 80], "nice": false, "zero": false}, "axis": {"orient": "left", "values": [-35, -30, -25, -15, -10, -5, 5, 10, 15, 25, 30, 35, 45, 50, 55, 65, 70, 75], "labels": false, "tickSize": -9, "title": null}}
     }},
    {"mark": {"type": "point", "opacity": 0},
     "encoding": {
       "x": {"field": "x", "type": "quantitative", "scale": {"domain": [-5, 5], "nice": false, "zero": false}, "axis": {"orient": "top", "values": [-5, 0, 5], "labels": false, "tickSize": -18, "title": null}},
       "y": {"field": "y", "type": "quantitative", "scale": {"domain": [-40, 80], "nice": false, "zero": false}, "axis": {"orient": "right", "values": [-40, -20, 0, 20, 40, 60, 80], "labels": false, "tickSize": -18, "title": null}}
     }},
    {"mark": {"type": "point", "opacity": 0},
     "encoding": {
       "x": {"field": "x", "type": "quantitative", "scale": {"domain": [-5, 5], "nice": false, "zero": false}, "axis": {"orient": "top", "values": [-4.5, -4, -3.5, -3, -2.5, -2, -1.5, -1, -0.5, 0.5, 1, 1.5, 2, 2.5, 3, 3.5, 4, 4.5], "labels": false, "tickSize": -9, "title": null}},
       "y": {"field": "y", "type": "quantitative", "scale": {"domain": [-40, 80], "nice": false, "zero": false}, "axis": {"orient": "right", "values": [-35, -30, -25, -15, -10, -5, 5, 10, 15, 25, 30, 35, 45, 50, 55, 65, 70, 75], "labels": false, "tickSize": -9, "title": null}}
     }},
    {"data": {"values": [{}]}, "mark": {"type": "text", "text": "diffuse down", "align": "left", "baseline": "alphabetic", "fontSize": 48, "fontWeight": "bold", "font": "Liberation Sans", "color": "black"},
     "encoding": {"x": {"datum": -4.71, "type": "quantitative", "scale": {"domain": [-5, 5], "nice": false, "zero": false}, "axis": null}, "y": {"datum": 72.1, "type": "quantitative", "scale": {"domain": [-40, 80], "nice": false, "zero": false}, "axis": null}}},
    {"data": {"values": [{}]}, "mark": {"type": "text", "text": "SW SFC flux", "align": "left", "baseline": "alphabetic", "fontSize": 48, "fontWeight": "bold", "font": "Liberation Sans", "color": "black"},
     "encoding": {"x": {"datum": -4.58, "type": "quantitative", "scale": {"domain": [-5, 5], "nice": false, "zero": false}, "axis": null}, "y": {"datum": 65.1, "type": "quantitative", "scale": {"domain": [-40, 80], "nice": false, "zero": false}, "axis": null}}}
  ]
},
{
  "width": 960, "height": 961,
  "data": {"name": "right"},
  "resolve": {"axis": {"x": "independent", "y": "independent"}},
  "layer": [
    {"data": {"values": [{}]}, "mark": {"type": "rule", "color": "black", "strokeWidth": 3},
     "encoding": {
       "x": {"datum": -155, "type": "quantitative", "scale": {"domain": [-155, 100], "nice": false, "zero": false}, "axis": null},
       "y": {"datum": -155, "type": "quantitative", "scale": {"domain": [-155, 100], "nice": false, "zero": false}, "axis": null},
       "x2": {"datum": 100}, "y2": {"datum": 100}}},
    {"mark": {"type": "point", "filled": false, "size": 245, "strokeWidth": 3, "opacity": 1},
     "encoding": {
       "x": {"field": "x", "type": "quantitative", "scale": {"domain": [-155, 100], "nice": false, "zero": false}, "axis": {"orient": "bottom", "values": [-150, -100, -50, 0, 50, 100], "ticks": false, "labelPadding": 11, "title": "RRTM RFC error (%)", "titlePadding": 45}},
       "y": {"field": "y", "type": "quantitative", "scale": {"domain": [-155, 100], "nice": false, "zero": false}, "axis": {"orient": "left", "values": [-150, -100, -50, 0, 50, 100], "ticks": false, "labelPadding": 18, "labelOffset": 4, "title": "GSFC or CAM RFC error (%)", "titlePadding": -1}},
       "color": {"field": "m", "type": "nominal", "scale": {"domain": ["GSFC", "CAM"], "range": ["#1030E0", "#F57D12"]},
         "legend": {"orient": "none", "legendX": 26, "legendY": 18, "title": null, "fillColor": "white", "strokeColor": "black", "padding": 18, "labelFont": "Liberation Sans", "labelFontSize": 46, "symbolType": "circle", "symbolSize": 256, "symbolStrokeWidth": 2.2, "symbolOffset": 35, "labelOffset": 28, "rowPadding": 6,
           "labelColor": {"expr": "datum.value == 'GSFC' ? '#1030E0' : '#F57D12'"}}}
     }},
    {"mark": {"type": "point", "opacity": 0},
     "encoding": {
       "x": {"field": "x", "type": "quantitative", "scale": {"domain": [-155, 100], "nice": false, "zero": false}, "axis": {"orient": "bottom", "values": [-150, -100, -50, 0, 50, 100], "labels": false, "tickSize": -18, "title": null}},
       "y": {"field": "y", "type": "quantitative", "scale": {"domain": [-155, 100], "nice": false, "zero": false}, "axis": {"orient": "left", "values": [-150, -100, -50, 0, 50, 100], "labels": false, "tickSize": -18, "title": null}}
     }},
    {"mark": {"type": "point", "opacity": 0},
     "encoding": {
       "x": {"field": "x", "type": "quantitative", "scale": {"domain": [-155, 100], "nice": false, "zero": false}, "axis": {"orient": "bottom", "values": [-140, -130, -120, -110, -90, -80, -70, -60, -40, -30, -20, -10, 10, 20, 30, 40, 60, 70, 80, 90], "labels": false, "tickSize": -9, "title": null}},
       "y": {"field": "y", "type": "quantitative", "scale": {"domain": [-155, 100], "nice": false, "zero": false}, "axis": {"orient": "left", "values": [-140, -130, -120, -110, -90, -80, -70, -60, -40, -30, -20, -10, 10, 20, 30, 40, 60, 70, 80, 90], "labels": false, "tickSize": -9, "title": null}}
     }},
    {"mark": {"type": "point", "opacity": 0},
     "encoding": {
       "x": {"field": "x", "type": "quantitative", "scale": {"domain": [-155, 100], "nice": false, "zero": false}, "axis": {"orient": "top", "values": [-150, -100, -50, 0, 50, 100], "labels": false, "tickSize": -18, "title": null}},
       "y": {"field": "y", "type": "quantitative", "scale": {"domain": [-155, 100], "nice": false, "zero": false}, "axis": {"orient": "right", "values": [-150, -100, -50, 0, 50, 100], "labels": false, "tickSize": -18, "title": null}}
     }},
    {"mark": {"type": "point", "opacity": 0},
     "encoding": {
       "x": {"field": "x", "type": "quantitative", "scale": {"domain": [-155, 100], "nice": false, "zero": false}, "axis": {"orient": "top", "values": [-140, -130, -120, -110, -90, -80, -70, -60, -40, -30, -20, -10, 10, 20, 30, 40, 60, 70, 80, 90], "labels": false, "tickSize": -9, "title": null}},
       "y": {"field": "y", "type": "quantitative", "scale": {"domain": [-155, 100], "nice": false, "zero": false}, "axis": {"orient": "right", "values": [-140, -130, -120, -110, -90, -80, -70, -60, -40, -30, -20, -10, 10, 20, 30, 40, 60, 70, 80, 90], "labels": false, "tickSize": -9, "title": null}}
     }},
    {"data": {"values": [{}]}, "mark": {"type": "text", "text": "total down SW SFC flux", "align": "right", "baseline": "alphabetic", "fontSize": 48, "fontWeight": "bold", "font": "Liberation Sans", "color": "black"},
     "encoding": {"x": {"datum": 92.8, "type": "quantitative", "scale": {"domain": [-155, 100], "nice": false, "zero": false}, "axis": null}, "y": {"datum": -146.1, "type": "quantitative", "scale": {"domain": [-155, 100], "nice": false, "zero": false}, "axis": null}}}
  ]
}
]
}
